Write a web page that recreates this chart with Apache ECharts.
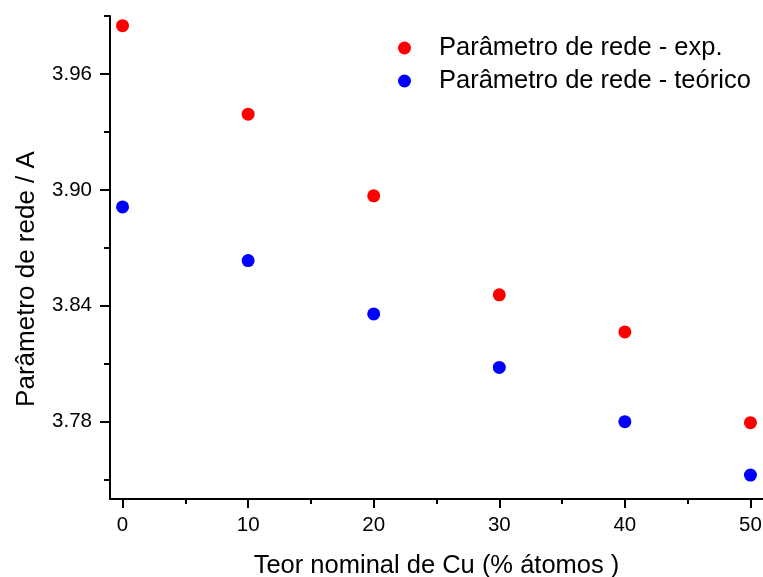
<!DOCTYPE html>
<html>
<head>
<meta charset="utf-8">
<script src="https://cdn.jsdelivr.net/npm/echarts@6/dist/echarts.min.js"></script>
<style>html,body{margin:0;padding:0;background:#fff}#c{width:763px;height:577px}</style>
</head>
<body>
<div id="c"></div>
<script>
const teor = [0, 10, 20, 30, 40, 50];
const expVals = [3.9850, 3.9392, 3.8969, 3.8457, 3.8265, 3.7795];
const teoVals = [3.8912, 3.8634, 3.8358, 3.8081, 3.7800, 3.7524];
const xMajor = [0, 10, 20, 30, 40, 50];
const xMinor = [5, 15, 25, 35, 45];
const yMajor = [3.78, 3.84, 3.90, 3.96];
const yMinor = [3.75, 3.81, 3.87, 3.93, 3.99];
const seriesNames = ['Parâmetro de rede - exp.', 'Parâmetro de rede - teórico'];

const FONT = 'Liberation Sans, Arial, sans-serif';
const chart = echarts.init(document.getElementById('c'));
const axLine = {onZero: false, lineStyle: {color: '#000', width: 2}};
chart.setOption({
  animation: false,
  backgroundColor: '#fff',
  textStyle: {fontFamily: FONT},
  grid: {left: 110, right: 0, top: 16, bottom: 78, containLabel: false, outerBoundsMode: 'none'},
  legend: {
    orient: 'vertical',
    left: 393, top: 30,
    itemWidth: 13, itemHeight: 13, itemGap: 7,
    icon: 'circle',
    textStyle: {fontFamily: FONT, fontSize: 25.5, lineHeight: 26, color: '#000', padding: [0, 0, 0, 23]},
    data: seriesNames
  },
  xAxis: [{
    type: 'value', min: -1, max: 51,
    name: 'Teor nominal de Cu (% átomos )', nameLocation: 'middle', nameGap: 54,
    nameTextStyle: {fontFamily: FONT, fontSize: 25.5, color: '#000'},
    axisLine: axLine, splitLine: {show: false},
    axisTick: {show: true, inside: false, length: 9, customValues: xMajor, lineStyle: {color: '#000', width: 2}},
    axisLabel: {customValues: xMajor, fontFamily: FONT, fontSize: 20.5, color: '#000', margin: 16}
  }, {
    type: 'value', min: -1, max: 51, position: 'bottom',
    axisLine: {show: false, onZero: false}, splitLine: {show: false},
    axisTick: {show: true, length: 5, customValues: xMinor, lineStyle: {color: '#000', width: 2}},
    axisLabel: {show: false}
  }],
  yAxis: [{
    type: 'value', min: 3.74, max: 3.99,
    name: 'Parâmetro de rede / A', nameLocation: 'middle', nameGap: 70,
    nameTextStyle: {fontFamily: FONT, fontSize: 26, color: '#000', padding: [0, 43, 0, 0]},
    axisLine: axLine, splitLine: {show: false},
    axisTick: {show: true, length: 10, customValues: yMajor, lineStyle: {color: '#000', width: 2}},
    axisLabel: {customValues: yMajor, fontFamily: FONT, fontSize: 20.5, color: '#000', margin: 18,
      formatter: v => v.toFixed(2)}
  }, {
    type: 'value', min: 3.74, max: 3.99, position: 'left',
    axisLine: {show: false, onZero: false}, splitLine: {show: false},
    axisTick: {show: true, length: 6, customValues: yMinor, lineStyle: {color: '#000', width: 2}},
    axisLabel: {show: false}
  }],
  series: [{
    name: seriesNames[0], type: 'scatter', symbol: 'circle', symbolSize: 13,
    itemStyle: {color: '#ff0000', opacity: 1},
    data: teor.map((x, i) => [x, expVals[i]])
  }, {
    name: seriesNames[1], type: 'scatter', symbol: 'circle', symbolSize: 13,
    itemStyle: {color: '#0000ff', opacity: 1},
    data: teor.map((x, i) => [x, teoVals[i]])
  }]
});
</script>
</body>
</html>
